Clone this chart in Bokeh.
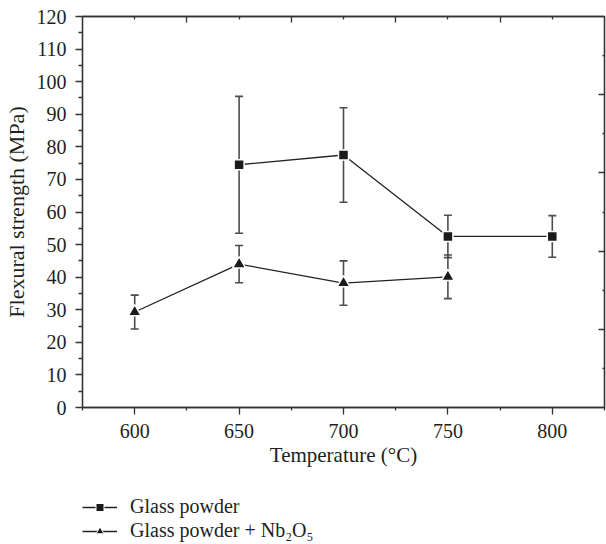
from bokeh.plotting import figure
from bokeh.layouts import column
from bokeh.models import (ColumnDataSource, Whisker, TeeHead, LinearAxis, FixedTicker,
                          Legend, LegendItem, Range1d, CustomJSTickFormatter)
from bokeh.embed import file_html
from bokeh.resources import INLINE

# ---- data ----
temps_gp = [650, 700, 750, 800]
strength_gp = [74.5, 77.5, 52.5, 52.5]
err_gp = [21.0, 14.5, 6.5, 6.4]

temps_nb = [600, 650, 700, 750]
strength_nb = [29.3, 44.0, 38.2, 40.1]
err_nb = [5.2, 5.7, 6.8, 6.7]

x_ticks = [600, 650, 700, 750, 800]
x_minor = [575, 625, 675, 725, 775, 825]
y_ticks = list(range(0, 121, 10))
y_minor = list(range(5, 120, 10))
top_major = [625, 675, 725, 775]
top_minor = [600, 650, 700, 750, 800]
right_major = [24, 48, 72, 96]
right_minor = [12, 36, 60, 84, 108]

label_gp = "Glass powder"
label_nb = "Glass powder + Nb\u2082O\u2085"

FONT = "Liberation Serif"
TXT = "#231f20"
LINE = "#222222"
MARK = "#1a1a1a"
ERR = "#4d4d4d"

src_gp = ColumnDataSource(dict(x=temps_gp, y=strength_gp,
                               lo=[v - e for v, e in zip(strength_gp, err_gp)],
                               hi=[v + e for v, e in zip(strength_gp, err_gp)]))
src_nb = ColumnDataSource(dict(x=temps_nb, y=strength_nb,
                               lo=[v - e for v, e in zip(strength_nb, err_nb)],
                               hi=[v + e for v, e in zip(strength_nb, err_nb)]))

p = figure(width=606, height=480, x_range=Range1d(575, 825), y_range=Range1d(0, 120),
           output_backend="svg", toolbar_location=None,
           min_border_left=82, min_border_right=2, min_border_top=16, min_border_bottom=73)
p.outline_line_color = "#333333"
p.outline_line_width = 1.3
p.grid.visible = False
p.background_fill_color = "white"
p.border_fill_color = "white"

def style_axis(ax):
    ax.axis_line_color = "#333333"
    ax.axis_line_width = 1.3
    ax.major_tick_line_color = "#333333"
    ax.minor_tick_line_color = "#333333"
    ax.major_tick_line_width = 1.3
    ax.minor_tick_line_width = 1.3
    ax.major_label_text_font = FONT
    ax.major_label_text_font_size = "20px"
    ax.major_label_text_color = TXT
    ax.axis_label_text_font = FONT
    ax.axis_label_text_font_size = "21px"
    ax.axis_label_text_font_style = "normal"
    ax.axis_label_text_color = TXT

xa = p.xaxis[0]
style_axis(xa)
xa.ticker = FixedTicker(ticks=x_ticks, minor_ticks=x_minor)
xa.major_tick_out = 7
xa.major_tick_in = 0
xa.minor_tick_out = 3
xa.minor_tick_in = 0
xa.major_label_standoff = 9
xa.axis_label = "Temperature (°C)"
xa.axis_label_standoff = 2

ya = p.yaxis[0]
style_axis(ya)
ya.ticker = FixedTicker(ticks=y_ticks, minor_ticks=y_minor)
ya.major_tick_out = 7
ya.major_tick_in = 0
ya.minor_tick_out = 4
ya.minor_tick_in = 0
ya.major_label_standoff = 9
ya.axis_label = "Flexural strength (MPa)"
ya.axis_label_text_font_size = "22px"
ya.axis_label_standoff = 5

blank = CustomJSTickFormatter(code="return ''")

top = LinearAxis(ticker=FixedTicker(ticks=top_major, minor_ticks=top_minor), formatter=blank)
style_axis(top)
top.major_tick_in = 6
top.major_tick_out = 0
top.minor_tick_in = 3
top.minor_tick_out = 0
top.major_label_standoff = 0
p.add_layout(top, "above")

right = LinearAxis(ticker=FixedTicker(ticks=right_major, minor_ticks=right_minor), formatter=blank)
style_axis(right)
right.major_tick_in = 6
right.major_tick_out = 0
right.minor_tick_in = 2
right.minor_tick_out = 0
right.major_label_standoff = 0
p.add_layout(right, "right")

for src in (src_gp, src_nb):
    w = Whisker(source=src, base="x", upper="hi", lower="lo",
                line_color=ERR, line_width=1.6,
                upper_head=TeeHead(size=8, line_color=ERR, line_width=1.6),
                lower_head=TeeHead(size=8, line_color=ERR, line_width=1.6))
    p.add_layout(w)

p.line("x", "y", source=src_gp, line_color=LINE, line_width=1.3)
p.line("x", "y", source=src_nb, line_color=LINE, line_width=1.3)
p.scatter("x", "y", source=src_gp, marker="square", size=10,
          fill_color=MARK, line_color="white", line_width=1.5)
p.scatter("x", "y", source=src_nb, marker="triangle", size=13,
          fill_color=MARK, line_color="white", line_width=1.5)

# ---- legend below the chart (separate strip; its data lies outside its view) ----
lg = figure(width=606, height=64, x_range=Range1d(0, 1), y_range=Range1d(0, 1),
            output_backend="svg", toolbar_location=None,
            min_border_left=0, min_border_right=0, min_border_top=0, min_border_bottom=0)
lg.axis.visible = False
lg.grid.visible = False
lg.outline_line_color = None
lg.background_fill_color = "white"
lg.border_fill_color = "white"
ll1 = lg.line("x", "y", source=src_gp, line_color=LINE, line_width=1.3)
ls1 = lg.scatter("x", "y", source=src_gp, marker="square", size=8,
                 fill_color=MARK, line_color="white", line_width=1)
ll2 = lg.line("x", "y", source=src_nb, line_color=LINE, line_width=1.3)
ls2 = lg.scatter("x", "y", source=src_nb, marker="triangle", size=11,
                 fill_color=MARK, line_color="white", line_width=1)

legend = Legend(items=[LegendItem(label=label_gp, renderers=[ll1, ls1]),
                       LegendItem(label=label_nb, renderers=[ll2, ls2])],
                location=(0, 2), orientation="vertical",
                label_text_font=FONT, label_text_font_size="20px", label_text_color=TXT,
                glyph_width=35, glyph_height=20, label_height=20, label_standoff=13, spacing=1,
                margin=0, padding=0, border_line_color=None, background_fill_alpha=0)
lg.add_layout(legend, "center")

layout = column(p, lg, spacing=0)
open("out.html", "w").write(file_html(layout, INLINE))
